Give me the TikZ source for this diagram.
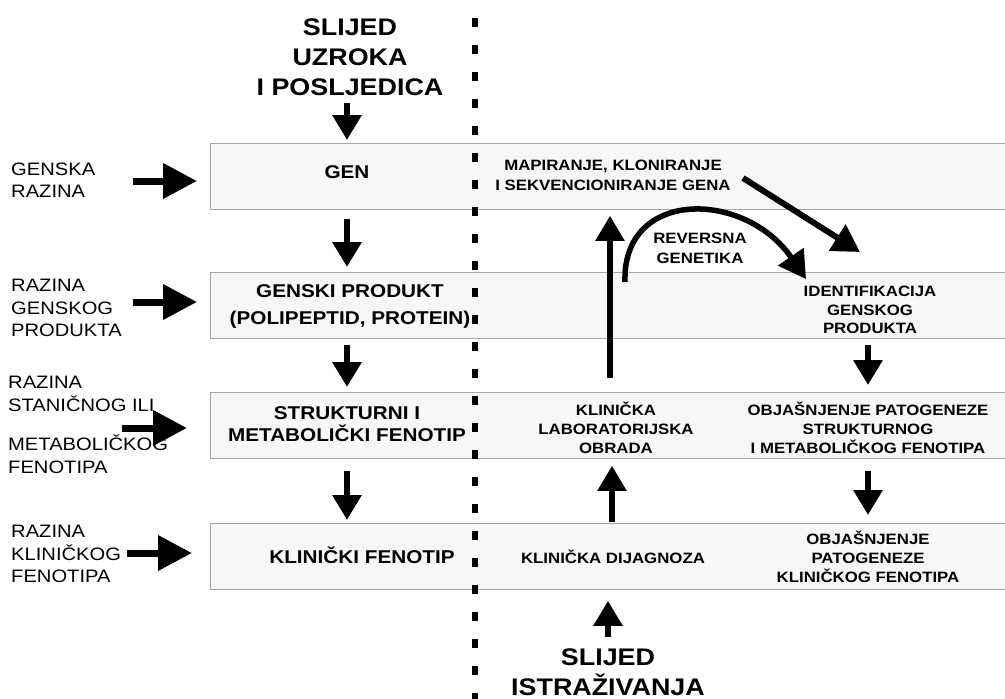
\documentclass[tikz,border=0pt]{standalone}
\usepackage{fontspec}
\setmainfont{Liberation Sans}[FakeStretch=1.12]
\usetikzlibrary{arrows.meta}
\begin{document}
\begin{tikzpicture}[x=1pt,y=-1pt,
 band/.style={draw=gray!70,line width=0.8pt,fill=gray!6,rectangle,minimum width=815pt,minimum height=66pt,anchor=north west,inner sep=0pt},
 title/.style={font=\bfseries\fontsize{24}{30}\selectfont,align=center,inner sep=0pt},
 boxtxt/.style={font=\bfseries\fontsize{18.5}{22}\selectfont,align=center,inner sep=0pt},
 lvl/.style={font=\fontsize{18}{22.5}\selectfont,align=left,anchor=west,inner sep=0pt},
 rtxt/.style={font=\bfseries\fontsize{15}{18.8}\selectfont,align=center,inner sep=0pt},
 arr/.style={line width=6.5pt,-{Triangle[width=28pt,length=25pt]}},
 harr/.style={line width=7pt,-{Triangle[width=34pt,length=34pt]}},
 carr/.style={line width=5.5pt,-{Triangle[width=30pt,length=27pt]}},
 divider/.style={line width=5.5pt,dash pattern=on 9pt off 18pt},
]
\path[use as bounding box] (0,0) rectangle (1005,699);
% bands
\node[band] (b1) at (210,143) {};
\node[band] (b2) at (210,272) {};
\node[band] (b3) at (210,392) {};
\node[band] (b4) at (210,523) {};
% divider
\coordinate (dtop) at (475,18);
\coordinate (dbot) at (475,710);
\draw[divider] (dtop) -- (dbot);
% titles
\node[title] (t1) at (350,57) {SLIJED\\UZROKA\\I POSLJEDICA};
\node[title] (t2) at (608,672) {SLIJED\\ISTRAŽIVANJA};
% level labels
\node[lvl] (l1) at (11,180) {GENSKA\\RAZINA};
\node[lvl] (l2) at (11,308) {RAZINA\\GENSKOG\\PRODUKTA};
\node[lvl] (l3) at (8,425) {RAZINA\\STANIČNOG ILI\\[17pt]METABOLIČKOG\\FENOTIPA};
\node[lvl] (l4) at (11,554) {RAZINA\\KLINIČKOG\\FENOTIPA};
% left column texts
\node[boxtxt] (gen) at (347,172) {GEN};
\node[boxtxt] (prod) at (350,306) {GENSKI PRODUKT\\[5pt](POLIPEPTID, PROTEIN)};
\node[boxtxt] (strk) at (347,424) {STRUKTURNI I\\METABOLIČKI FENOTIP};
\node[boxtxt] (klin) at (362,555) {KLINIČKI FENOTIP};
% right texts
\node[rtxt] (map) at (613,175) {MAPIRANJE, KLONIRANJE\\[1.5pt]I SEKVENCIONIRANJE GENA};
\node[rtxt] (rev) at (700,248) {REVERSNA\\[1pt]GENETIKA};
\node[rtxt] (ident) at (870,310) {IDENTIFIKACIJA\\GENSKOG\\PRODUKTA};
\node[rtxt] (lab) at (616,428) {KLINIČKA\\LABORATORIJSKA\\OBRADA};
\node[rtxt] (objs) at (868,428) {OBJAŠNJENJE PATOGENEZE\\STRUKTURNOG\\I METABOLIČKOG FENOTIPA};
\node[rtxt] (diag) at (613,557) {KLINIČKA DIJAGNOZA};
\node[rtxt] (objk) at (868,557) {OBJAŠNJENJE\\[0.5pt]PATOGENEZE\\[0.5pt]KLINIČKOG FENOTIPA};
% left column arrows
\coordinate (a0s) at (347,103);
\draw[arr] (a0s) -- (a0s |- b1.north) [shorten >=3pt];
\draw[arr,shorten <=9pt,shorten >=5pt] (b1.south -| gen) -- (b2.north -| gen);
\draw[arr,shorten <=6pt,shorten >=5pt] (b2.south -| gen) -- (b3.north -| gen);
\draw[arr,shorten <=12pt,shorten >=3pt] (b3.south -| gen) -- (b4.north -| gen);
% level arrows
\coordinate (h1) at (133,181);
\coordinate (h2) at (133,302);
\coordinate (h3) at (122,428);
\coordinate (h4) at (127,553);
\draw[harr,shorten >=13pt] (h1) -- (h1 -| b1.west);
\draw[harr,shorten >=13pt] (h2) -- (h2 -| b2.west);
\draw[harr,shorten >=23pt] (h3) -- (h3 -| b3.west);
\draw[harr,shorten >=18pt] (h4) -- (h4 -| b4.west);
% right column arrows
\coordinate (u1) at (610,378);
\draw[arr,line width=5.5pt,shorten >=6pt] (u1) -- (u1 |- b1.south);
\coordinate (u2) at (612,522);
\draw[arr,line width=5.5pt,shorten >=7pt] (u2) -- (u2 |- b3.south);
\coordinate (u3) at (608,637);
\draw[arr,line width=5.5pt,shorten >=11pt] (u3) -- (u3 |- b4.south);
\draw[arr,shorten <=6pt,shorten >=7pt] (b2.south -| objs) -- (b3.north -| objs);
\draw[arr,shorten <=12pt,shorten >=8pt] (b3.south -| objs) -- (b4.north -| objs);
% diagonal
\coordinate (d1) at (743,178);
\coordinate (d2) at (860,252);
\draw[carr,line width=6pt] (d1) -- (d2);
% reverse genetics curve
\coordinate (cs) at (625,282);
\coordinate (cc1) at (622,188);
\coordinate (cc2) at (745,190);
\coordinate (ce) at (806,279);
\draw[carr] (cs) .. controls (cc1) and (cc2) .. (ce);
\end{tikzpicture}
\end{document}
